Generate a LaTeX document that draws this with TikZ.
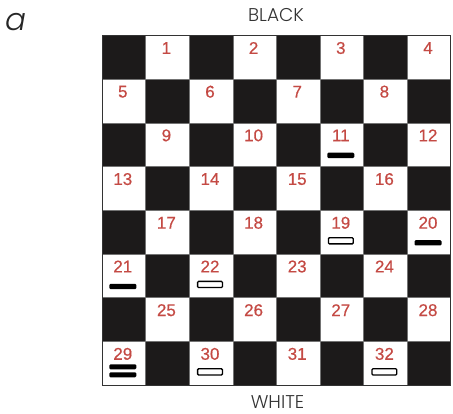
\documentclass[tikz,border=0pt]{standalone}
\usepackage{fontspec}
\usetikzlibrary{calc}
\newfontfamily\numfont{Liberation Sans}[FakeBold=0.5]
\IfFontExistsTF{Poppins Light}{\newfontfamily\popfont{Poppins Light}}{\newfontfamily\popfont{Poppins}}
\IfFontExistsTF{Poppins Light Italic}{\newfontfamily\popitfont{Poppins Light Italic}}{\newfontfamily\popitfont{Poppins}[FakeSlant=0.2]}
\definecolor{numred}{RGB}{196,74,68}
\definecolor{sqblack}{RGB}{28,26,26}
\begin{document}
\begin{tikzpicture}[x=1pt,y=-1pt,
  numlabel/.style={font=\numfont\fontsize{17}{18}\selectfont, text=numred, inner sep=0pt},
  blackpiece/.style={fill=black, rounded corners=1.2pt},
  whitepiece/.style={draw=black, fill=white, line width=1.3pt, rounded corners=1pt},
  sidelabel/.style={font=\popfont\fontsize{18.5}{20}\selectfont, text=black!80, inner sep=0pt},
  panelletter/.style={font=\popitfont\fontsize{31}{33}\selectfont, text=black!85, inner sep=0pt}]
\useasboundingbox (0,0) rectangle (453,414);
\def\bx{102}\def\by{35.5}\def\sx{43.6}\def\sy{43.7}
% squares
\foreach \r in {0,...,7}{
  \foreach \c in {0,...,7}{
    \pgfmathtruncatemacro\pty{mod(\r+\c,2)}
    \ifnum\pty=0
      \fill[sqblack] ({\bx+\c*\sx},{\by+\r*\sy}) rectangle ++(\sx,\sy);
    \fi
  }
}
% grid
\foreach \i in {1,...,7}{
  \draw[black!55, line width=0.4pt] ({\bx+\i*\sx},\by) -- ++(0,{8*\sy});
  \draw[black!55, line width=0.4pt] (\bx,{\by+\i*\sy}) -- ++({8*\sx},0);
}
\draw[black!80, line width=0.9pt] (\bx,\by) rectangle ++({8*\sx},{8*\sy});
% square reference points (top centre of each playable square) and numbers
\foreach \r in {0,...,7}{
  \foreach \k in {0,...,3}{
    \pgfmathtruncatemacro\n{4*\r+\k+1}
    \pgfmathtruncatemacro\cc{2*\k+1-mod(\r,2)}
    \coordinate (s\n) at ({\bx+(\cc+0.5)*\sx-1},{\by+\r*\sy});
    \node[numlabel] (n\n) at ($(s\n)+(0,12.5)$) {\n};
  }
}
% black pieces
\foreach \p in {11,20,21}{
  \fill[blackpiece] ($(s\p)+(-13.5,29.8)$) rectangle ++(27,5.4);
}
\fill[blackpiece] ($(s29)+(-13.5,22.9)$) rectangle ++(27,5);
\fill[blackpiece] ($(s29)+(-13.5,30.9)$) rectangle ++(27,5);
% white pieces
\foreach \p in {19,22,30,32}{
  \draw[whitepiece] ($(s\p)+(-12.4,27.4)$) rectangle ++(24.8,6.2);
}
% side labels
\node[sidelabel] (black) at (276,15.5) {BLACK};
\node[sidelabel] (white) at (277.5,402.5) {WHITE};
\node[panelletter] (a) at (15.5,22) {a};
\end{tikzpicture}
\end{document}
